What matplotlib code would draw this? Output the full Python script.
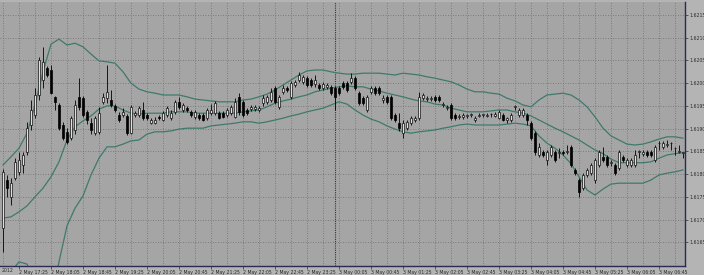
import matplotlib
matplotlib.use("Agg")
import matplotlib.pyplot as plt
import numpy as np

# ---------------- data (5-minute bars) ----------------
opens = [
    1.61681, 1.61787, 1.61750, 1.61791, 1.61805, 1.61820, 1.61849, 1.61908, 1.61930, 1.61974,
    1.62007, 1.62033, 1.62029, 1.61970, 1.61952, 1.61908, 1.61893, 1.61879, 1.61897, 1.61970,
    1.61967, 1.61937, 1.61912, 1.61890, 1.61893, 1.61959, 1.61967, 1.61963, 1.61950, 1.61930,
    1.61930, 1.61928, 1.61890, 1.61930, 1.61930, 1.61941, 1.61930, 1.61912, 1.61912, 1.61926,
    1.61919, 1.61930, 1.61923, 1.61937, 1.61959, 1.61941, 1.61945, 1.61937, 1.61926, 1.61930,
    1.61930, 1.61923, 1.61934, 1.61934, 1.61934, 1.61934, 1.61930, 1.61934, 1.61926, 1.61970,
    1.61959, 1.61941, 1.61943, 1.61943, 1.61941, 1.61956, 1.61959, 1.61963, 1.61989, 1.61948,
    1.61981, 1.61989, 1.61970, 1.61996, 1.62007, 1.62003, 1.62011, 1.62007, 1.61998, 1.61996,
    1.61989, 1.61992, 1.61992, 1.61989, 1.61989, 1.62000, 1.62000, 1.62003, 1.62011, 1.61978,
    1.61967, 1.61941, 1.61981, 1.61989, 1.61989, 1.61963, 1.61970, 1.61970, 1.61930, 1.61912,
    1.61890, 1.61901, 1.61912, 1.61919, 1.61923, 1.61967, 1.61965, 1.61965, 1.61970, 1.61970,
    1.61952, 1.61945, 1.61952, 1.61930, 1.61926, 1.61926, 1.61928, 1.61930, 1.61919, 1.61928,
    1.61930, 1.61928, 1.61932, 1.61928, 1.61923, 1.61930, 1.61919, 1.61919, 1.61948, 1.61930,
    1.61930, 1.61930, 1.61912, 1.61890, 1.61842, 1.61849, 1.61831, 1.61842, 1.61849, 1.61847,
    1.61849, 1.61849, 1.61860, 1.61809, 1.61787, 1.61769, 1.61798, 1.61802, 1.61787, 1.61820,
    1.61838, 1.61838, 1.61825, 1.61820, 1.61813, 1.61838, 1.61820, 1.61820, 1.61820, 1.61849,
    1.61845, 1.61849, 1.61849, 1.61831, 1.61868, 1.61860, 1.61864, 1.61868, 1.61857, 1.61849,
    1.61847,
]
highs = [
    1.61811, 1.61798, 1.61791, 1.61835, 1.61849, 1.61849, 1.61915, 1.61963, 1.61989, 1.62058,
    1.62080, 1.62038, 1.62040, 1.61972, 1.61956, 1.61915, 1.61901, 1.61928, 1.61963, 1.62011,
    1.61972, 1.61941, 1.61923, 1.61928, 1.61948, 1.61978, 1.62040, 1.61985, 1.61954, 1.61937,
    1.61945, 1.61932, 1.61952, 1.61939, 1.61950, 1.61959, 1.61934, 1.61923, 1.61926, 1.61930,
    1.61939, 1.61950, 1.61941, 1.61963, 1.61970, 1.61956, 1.61950, 1.61941, 1.61941, 1.61934,
    1.61934, 1.61945, 1.61954, 1.61961, 1.61939, 1.61939, 1.61945, 1.61952, 1.61967, 1.61978,
    1.61963, 1.61945, 1.61952, 1.61952, 1.61950, 1.61974, 1.61974, 1.61989, 1.61994, 1.61974,
    1.61996, 1.61994, 1.62005, 1.62007, 1.62025, 1.62018, 1.62016, 1.62011, 1.62018, 1.62000,
    1.62003, 1.62000, 1.61996, 1.61994, 1.61994, 1.62005, 1.62005, 1.62022, 1.62016, 1.61983,
    1.61972, 1.61974, 1.61994, 1.61994, 1.61994, 1.61974, 1.61974, 1.61974, 1.61934, 1.61934,
    1.61919, 1.61919, 1.61928, 1.61928, 1.61981, 1.61978, 1.61972, 1.61972, 1.61974, 1.61974,
    1.61959, 1.61952, 1.61956, 1.61934, 1.61932, 1.61934, 1.61932, 1.61934, 1.61928, 1.61934,
    1.61932, 1.61934, 1.61934, 1.61937, 1.61941, 1.61934, 1.61926, 1.61934, 1.61952, 1.61945,
    1.61945, 1.61934, 1.61917, 1.61895, 1.61868, 1.61853, 1.61853, 1.61864, 1.61853, 1.61857,
    1.61853, 1.61864, 1.61864, 1.61813, 1.61791, 1.61802, 1.61813, 1.61825, 1.61835, 1.61853,
    1.61860, 1.61842, 1.61831, 1.61825, 1.61853, 1.61842, 1.61835, 1.61835, 1.61853, 1.61853,
    1.61853, 1.61853, 1.61853, 1.61864, 1.61873, 1.61873, 1.61875, 1.61871, 1.61860, 1.61864,
    1.61849,
]
lows = [
    1.61629, 1.61750, 1.61732, 1.61787, 1.61798, 1.61802, 1.61842, 1.61897, 1.61923, 1.61963,
    1.61989, 1.62014, 1.61976, 1.61941, 1.61897, 1.61875, 1.61866, 1.61875, 1.61888, 1.61941,
    1.61926, 1.61910, 1.61888, 1.61886, 1.61888, 1.61954, 1.61956, 1.61948, 1.61937, 1.61915,
    1.61926, 1.61886, 1.61888, 1.61926, 1.61926, 1.61919, 1.61919, 1.61910, 1.61910, 1.61919,
    1.61917, 1.61926, 1.61919, 1.61932, 1.61943, 1.61937, 1.61937, 1.61926, 1.61921, 1.61919,
    1.61917, 1.61919, 1.61930, 1.61930, 1.61921, 1.61923, 1.61926, 1.61930, 1.61923, 1.61930,
    1.61926, 1.61930, 1.61939, 1.61939, 1.61937, 1.61950, 1.61954, 1.61959, 1.61954, 1.61943,
    1.61976, 1.61981, 1.61965, 1.61992, 1.62003, 1.61998, 1.61992, 1.61992, 1.61992, 1.61985,
    1.61985, 1.61987, 1.61974, 1.61941, 1.61974, 1.61987, 1.61981, 1.61998, 1.61985, 1.61952,
    1.61952, 1.61937, 1.61976, 1.61974, 1.61974, 1.61956, 1.61954, 1.61919, 1.61915, 1.61895,
    1.61879, 1.61897, 1.61908, 1.61915, 1.61919, 1.61963, 1.61961, 1.61961, 1.61959, 1.61959,
    1.61948, 1.61941, 1.61919, 1.61919, 1.61921, 1.61921, 1.61923, 1.61926, 1.61915, 1.61926,
    1.61926, 1.61926, 1.61926, 1.61926, 1.61921, 1.61917, 1.61912, 1.61915, 1.61941, 1.61926,
    1.61926, 1.61908, 1.61875, 1.61842, 1.61838, 1.61838, 1.61820, 1.61838, 1.61827, 1.61835,
    1.61842, 1.61845, 1.61816, 1.61798, 1.61750, 1.61765, 1.61794, 1.61798, 1.61780, 1.61816,
    1.61827, 1.61816, 1.61818, 1.61798, 1.61809, 1.61827, 1.61816, 1.61816, 1.61816, 1.61835,
    1.61840, 1.61838, 1.61838, 1.61827, 1.61853, 1.61855, 1.61860, 1.61853, 1.61842, 1.61847,
    1.61835,
]
closes = [
    1.61805, 1.61769, 1.61780, 1.61827, 1.61831, 1.61842, 1.61901, 1.61941, 1.61974, 1.62051,
    1.62047, 1.62018, 1.61978, 1.61959, 1.61901, 1.61879, 1.61871, 1.61923, 1.61952, 1.61948,
    1.61930, 1.61919, 1.61897, 1.61923, 1.61934, 1.61970, 1.61981, 1.61952, 1.61941, 1.61919,
    1.61937, 1.61890, 1.61948, 1.61934, 1.61945, 1.61923, 1.61923, 1.61919, 1.61919, 1.61923,
    1.61934, 1.61945, 1.61934, 1.61959, 1.61948, 1.61952, 1.61941, 1.61930, 1.61937, 1.61923,
    1.61919, 1.61941, 1.61941, 1.61956, 1.61923, 1.61926, 1.61941, 1.61948, 1.61959, 1.61937,
    1.61930, 1.61934, 1.61948, 1.61948, 1.61945, 1.61967, 1.61970, 1.61981, 1.61959, 1.61970,
    1.61989, 1.61985, 1.62000, 1.62003, 1.62018, 1.62014, 1.61996, 1.61996, 1.62007, 1.61989,
    1.61998, 1.61996, 1.61978, 1.61970, 1.61978, 1.61992, 1.61985, 1.62011, 1.61989, 1.61956,
    1.61956, 1.61970, 1.61989, 1.61978, 1.61978, 1.61967, 1.61959, 1.61923, 1.61919, 1.61901,
    1.61912, 1.61915, 1.61923, 1.61923, 1.61970, 1.61974, 1.61967, 1.61967, 1.61963, 1.61963,
    1.61954, 1.61948, 1.61923, 1.61923, 1.61928, 1.61930, 1.61928, 1.61932, 1.61923, 1.61930,
    1.61930, 1.61930, 1.61932, 1.61932, 1.61937, 1.61919, 1.61923, 1.61930, 1.61948, 1.61941,
    1.61941, 1.61919, 1.61879, 1.61849, 1.61860, 1.61842, 1.61849, 1.61860, 1.61831, 1.61849,
    1.61847, 1.61849, 1.61820, 1.61802, 1.61761, 1.61798, 1.61809, 1.61820, 1.61831, 1.61849,
    1.61831, 1.61820, 1.61825, 1.61802, 1.61849, 1.61831, 1.61831, 1.61831, 1.61842, 1.61849,
    1.61849, 1.61842, 1.61842, 1.61860, 1.61868, 1.61868, 1.61864, 1.61868, 1.61857, 1.61849,
    1.61847,
]

# Bollinger band values sampled every second bar
band_bars = list(range(0, 171, 2))
bb_upper = [
    1.61820, 1.61838, 1.61857, 1.61890, 1.61952, 1.62025, 1.62086, 1.62097, 1.62084, 1.62088,
    1.62080, 1.62064, 1.62049, 1.62047, 1.62044, 1.62025, 1.62000, 1.61987, 1.61981, 1.61978,
    1.61974, 1.61974, 1.61974, 1.61970, 1.61965, 1.61963, 1.61961, 1.61959, 1.61959, 1.61959,
    1.61963, 1.61965, 1.61970, 1.61976, 1.61985, 1.61996, 1.62007, 1.62018, 1.62027, 1.62029,
    1.62029, 1.62025, 1.62022, 1.62020, 1.62020, 1.62022, 1.62022, 1.62022, 1.62020, 1.62018,
    1.62022, 1.62020, 1.62018, 1.62014, 1.62011, 1.62007, 1.62003, 1.61996, 1.61987, 1.61981,
    1.61981, 1.61978, 1.61976, 1.61967, 1.61961, 1.61952, 1.61948, 1.61963, 1.61974, 1.61976,
    1.61978, 1.61974, 1.61963, 1.61948, 1.61926, 1.61901, 1.61884, 1.61875, 1.61866, 1.61864,
    1.61866, 1.61871, 1.61877, 1.61882, 1.61882, 1.61879,
]
bb_middle = [
    1.61703, 1.61706, 1.61717, 1.61730, 1.61750, 1.61769, 1.61794, 1.61827, 1.61875, 1.61904,
    1.61917, 1.61928, 1.61943, 1.61950, 1.61950, 1.61941, 1.61934, 1.61932, 1.61934, 1.61934,
    1.61934, 1.61937, 1.61937, 1.61937, 1.61934, 1.61934, 1.61934, 1.61934, 1.61934, 1.61934,
    1.61937, 1.61939, 1.61941, 1.61948, 1.61956, 1.61961, 1.61965, 1.61970, 1.61974, 1.61981,
    1.61985, 1.61989, 1.61992, 1.61994, 1.61992, 1.61992, 1.61987, 1.61983, 1.61978, 1.61974,
    1.61970, 1.61965, 1.61961, 1.61959, 1.61954, 1.61952, 1.61945, 1.61941, 1.61937, 1.61937,
    1.61937, 1.61939, 1.61941, 1.61941, 1.61937, 1.61934, 1.61928, 1.61919, 1.61910, 1.61901,
    1.61893, 1.61884, 1.61875, 1.61864, 1.61853, 1.61845, 1.61833, 1.61825, 1.61825, 1.61825,
    1.61825, 1.61827, 1.61835, 1.61842, 1.61845, 1.61847,
]
bb_lower = [
    1.61556, 1.61585, 1.61607, 1.61602, 1.61563, 1.61523, 1.61512, 1.61607, 1.61686, 1.61725,
    1.61752, 1.61798, 1.61835, 1.61860, 1.61860, 1.61866, 1.61873, 1.61875, 1.61888, 1.61893,
    1.61893, 1.61895, 1.61899, 1.61901, 1.61901, 1.61901, 1.61906, 1.61908, 1.61910, 1.61912,
    1.61915, 1.61915, 1.61912, 1.61915, 1.61919, 1.61923, 1.61928, 1.61932, 1.61937, 1.61941,
    1.61945, 1.61952, 1.61959, 1.61954, 1.61941, 1.61930, 1.61921, 1.61915, 1.61906, 1.61899,
    1.61893, 1.61890, 1.61893, 1.61895, 1.61897, 1.61901, 1.61904, 1.61908, 1.61910, 1.61908,
    1.61908, 1.61908, 1.61908, 1.61910, 1.61912, 1.61910, 1.61906, 1.61884, 1.61868, 1.61857,
    1.61842, 1.61823, 1.61794, 1.61765, 1.61754, 1.61767, 1.61778, 1.61780, 1.61780, 1.61780,
    1.61780, 1.61787, 1.61798, 1.61802, 1.61805, 1.61809,
]

time_labels = [
    "2 May 17:25", "2 May 18:05", "2 May 18:45", "2 May 19:25", "2 May 20:05",
    "2 May 20:45", "2 May 21:25", "2 May 22:05", "2 May 22:45", "2 May 23:25",
    "3 May 00:05", "3 May 00:45", "3 May 01:25", "3 May 02:05", "3 May 02:45",
    "3 May 03:25", "3 May 04:05", "3 May 04:45", "3 May 05:25", "3 May 06:05",
    "3 May 06:45",
]
time_label_bars = list(range(4, 171, 8))
price_ticks = [1.6215, 1.6210, 1.6205, 1.6200, 1.6195, 1.6190, 1.6185, 1.6180, 1.6175, 1.6170, 1.6165]
day_separator_bar = 83

assert len(opens) == len(highs) == len(lows) == len(closes)
assert len(band_bars) == len(bb_upper) == len(bb_middle) == len(bb_lower)

# ---------------- style ----------------
OUTER = "#b4b4b4"
PLOT = "#a5a5a5"
GRID = "#6c6c6c"
BAND = "#3e7a6c"
SPINE = "#2a2a55"
TXT = "#2a2a2a"

W, H = 704, 275
fig = plt.figure(figsize=(W / 100, H / 100), dpi=100, facecolor=OUTER)
ax = fig.add_axes([0 / W, (H - 266) / H, 685 / W, 264 / H])
ax.set_facecolor(PLOT)

ax.set_xlim(-0.75, 170.5)
ax.set_ylim(1.615978, 1.621786)

# grid
for b in range(0, 171, 4):
    ax.axvline(b, color=GRID, lw=0.6, ls=(0, (1, 2)), zorder=1)
for p in price_ticks:
    ax.axhline(p, color=GRID, lw=0.6, ls=(0, (1, 2)), zorder=1)
ax.axvline(day_separator_bar, color="#353535", lw=0.8, ls=(0, (1, 1)), zorder=1)

# bollinger bands
for series in (bb_upper, bb_middle, bb_lower):
    ax.plot(band_bars, series, color=BAND, lw=0.9, zorder=2)

# candles
o = np.array(opens); h = np.array(highs); l = np.array(lows); c = np.array(closes)
x = np.arange(len(o))
up = c >= o
ax.vlines(x, l, h, color="black", lw=0.6, zorder=3)
bottom = np.minimum(o, c)
height = np.maximum(np.abs(c - o), 0.000012)
ax.bar(x[up], height[up], bottom=bottom[up], width=0.7, color="#dedee6",
       edgecolor="#111111", linewidth=0.5, zorder=4)
ax.bar(x[~up], height[~up], bottom=bottom[~up], width=0.7, color="black",
       edgecolor="black", linewidth=0.5, zorder=4)

# axes decoration
for side in ("left", "top"):
    ax.spines[side].set_visible(False)
for side in ("right", "bottom"):
    ax.spines[side].set_color(SPINE)
    ax.spines[side].set_linewidth(1.0)

ax.yaxis.tick_right()
ax.set_yticks(price_ticks)
ax.set_yticklabels([f"{p:.4f}" for p in price_ticks])
ax.tick_params(axis="y", length=2, width=0.5, color=SPINE, labelsize=3.3,
               labelcolor=TXT, pad=1)

ax.set_xticks(time_label_bars)
ax.set_xticklabels(time_labels)
ax.tick_params(axis="x", length=2, width=0.5, color=SPINE, labelsize=3.3,
               labelcolor=TXT, pad=1)
for lbl in ax.get_xticklabels():
    lbl.set_horizontalalignment("left")

fig.text(2 / W, 1 - 270 / H, "2012", fontsize=3.3, color=TXT, ha="left", va="center")

fig.savefig("out.png", dpi=100, facecolor=OUTER)
